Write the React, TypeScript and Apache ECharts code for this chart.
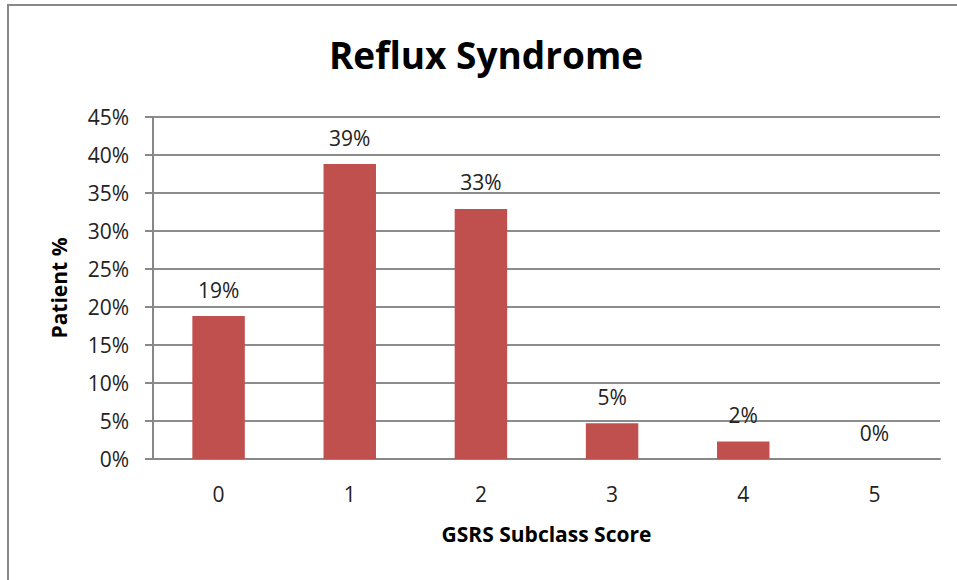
import React, { useEffect, useRef } from "react";
import * as echarts from "echarts";

const categories = ["0", "1", "2", "3", "4", "5"];
const patientPct = [18.8, 38.8, 32.9, 4.7, 2.3, 0];
const yTicks = { min: 0, max: 45, interval: 5 };
const titleText = "Reflux Syndrome";
const xAxisTitle = "GSRS Subclass Score";
const yAxisTitle = "Patient %";

const FONT = "'Open Sans', 'Noto Sans', sans-serif";

export default function App() {
  const ref = useRef<HTMLDivElement>(null);
  useEffect(() => {
    if (!ref.current) return;
    const chart = echarts.init(ref.current, undefined, { renderer: "svg" });
    chart.setOption({
      animation: false,
      backgroundColor: "#ffffff",
      title: {
        text: titleText,
        left: 481,
        top: 31,
        textAlign: "center",
        textStyle: { fontFamily: FONT, fontSize: 37, fontWeight: "bold", color: "#000" },
      },
      grid: { left: 153, right: 17, top: 117, bottom: 121, containLabel: false },
      xAxis: {
        type: "category",
        data: categories,
        name: xAxisTitle,
        nameLocation: "middle",
        nameGap: 64,
        nameTextStyle: { fontFamily: FONT, fontSize: 21, fontWeight: "bold", color: "#000" },
        axisLine: { show: true, lineStyle: { color: "#888", width: 2 } },
        axisTick: { show: false },
        axisLabel: { fontFamily: FONT, fontSize: 21, color: "#222", margin: 24 },
        splitLine: { show: false },
      },
      yAxis: {
        type: "value",
        min: yTicks.min,
        max: yTicks.max,
        interval: yTicks.interval,
        name: yAxisTitle,
        nameLocation: "middle",
        nameGap: 84,
        nameRotate: 90,
        nameTextStyle: { fontFamily: FONT, fontSize: 21, fontWeight: "bold", color: "#000" },
        axisLine: { show: true, lineStyle: { color: "#888", width: 2 } },
        axisTick: { show: true, length: 8, inside: false, lineStyle: { color: "#888", width: 2 } },
        axisLabel: {
          fontFamily: FONT,
          fontSize: 21,
          color: "#222",
          margin: 24,
          formatter: (v: number) => `${v}%`,
        },
        splitLine: { show: true, lineStyle: { color: "#8c8c8c", width: 2 } },
      },
      series: [
        {
          type: "bar",
          data: patientPct,
          barWidth: "40%",
          itemStyle: { color: "#C0504D" },
          label: {
            show: true,
            position: "top",
            distance: 16,
            fontFamily: FONT,
            fontSize: 21,
            color: "#222",
            formatter: (p: any) => `${Math.round(p.value)}%`,
          },
        },
      ],
      graphic: [
        {
          type: "rect",
          shape: { x: 8, y: 5, width: 1200, height: 1200 },
          style: { fill: "none", stroke: "#888", lineWidth: 2 },
          silent: true,
          z: 100,
        },
      ],
    });
    return () => chart.dispose();
  }, []);
  return (
    <div
      ref={ref}
      style={{ position: "fixed", left: 0, top: 0, width: 957, height: 580 }}
    />
  );
}
